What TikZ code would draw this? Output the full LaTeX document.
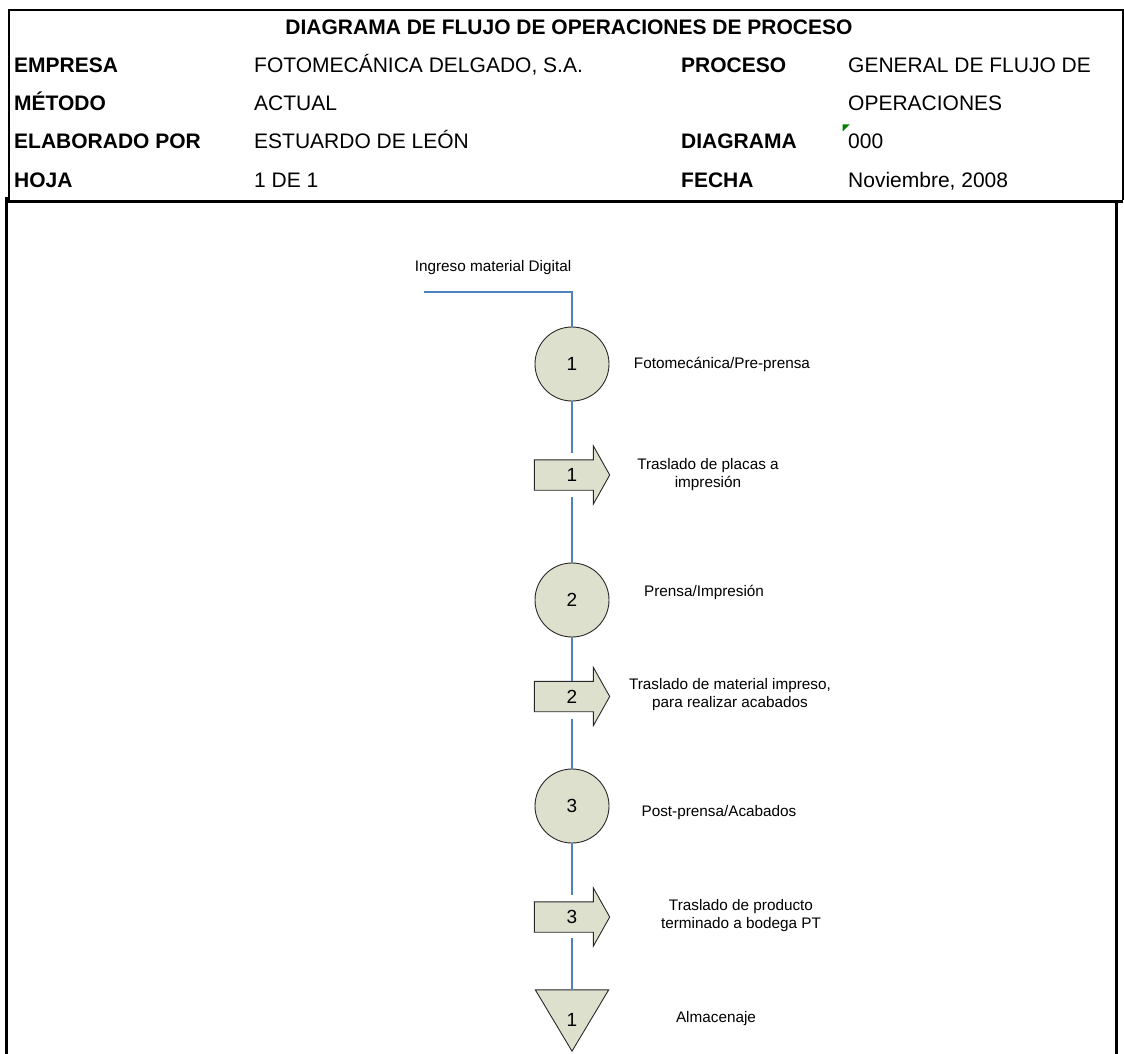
\documentclass[tikz,border=0pt]{standalone}
\usepackage{fontspec}
\setmainfont{Liberation Sans}
\begin{document}
\begin{tikzpicture}[x=1pt,y=-1pt,
  hdrbold/.style={font=\fontsize{21}{25}\selectfont\bfseries, inner sep=0pt, anchor=base west},
  hdrtext/.style={font=\fontsize{21}{25}\selectfont, inner sep=0pt, anchor=base west},
  caption/.style={font=\fontsize{15.3}{18}\selectfont, align=center, inner sep=0pt},
  numfont/.style={font=\fontsize{19}{22}\selectfont},
  flow/.style={draw={rgb,255:red,79;green,129;blue,189}, line width=1.5pt},
  symb/.style={draw={rgb,255:red,40;green,40;blue,40}, line width=0.9pt, fill={rgb,255:red,221;green,224;blue,204}},
  opcircle/.style={symb, circle, minimum size=74pt, inner sep=0pt, numfont},
  movebox/.style={minimum width=75pt, minimum height=30pt, inner sep=0pt},
  storebox/.style={minimum width=73pt, minimum height=61pt, inner sep=0pt},
  frame/.style={line width=2pt, black}]

\useasboundingbox (0,0) rectangle (1124,1054);

% header frame
\draw[frame] (9,200) -- (9,10) -- (1123,10) -- (1123,200);
\draw[line width=3pt] (5,201.5) -- (1123,201.5);
\draw[line width=3pt] (6,197) -- (6,1054);
\draw[line width=3pt] (1116.5,201) -- (1116.5,1054);

% header texts
\node[hdrbold, anchor=base] (title) at (569,35) {DIAGRAMA DE FLUJO DE OPERACIONES DE PROCESO};
\node[hdrbold] (lemp) at (14,73) {EMPRESA};
\node[hdrtext] (vemp) at (254,73) {FOTOMECÁNICA DELGADO, S.A.};
\node[hdrbold] (lproc) at (681,73) {PROCESO};
\node[hdrtext] (vproc) at (848,73) {GENERAL DE FLUJO DE};
\node[hdrbold] (lmet) at (14,111) {MÉTODO};
\node[hdrtext] (vmet) at (254,111) {ACTUAL};
\node[hdrtext] (vproc2) at (848,111) {OPERACIONES};
\node[hdrbold] (lelab) at (14,149) {ELABORADO POR};
\node[hdrtext] (velab) at (254,149) {ESTUARDO DE LEÓN};
\node[hdrbold] (ldiag) at (681,149) {DIAGRAMA};
\node[hdrtext] (vdiag) at (848,149) {000};
\fill[green!50!black] (842.5,124.5) -- (849.5,124.5) -- (842.5,131.5) -- cycle;
\node[hdrbold] (lhoja) at (14,187) {HOJA};
\node[hdrtext] (vhoja) at (254,187) {1 DE 1};
\node[hdrbold] (lfecha) at (681,187) {FECHA};
\node[hdrtext] (vfecha) at (848,187) {Noviembre, 2008};

% process symbols
\node[opcircle] (op1) at (572,364) {1};
\node[movebox] (tr1) at (572,475) {};
\node[opcircle] (op2) at (572,600) {2};
\node[movebox] (tr2) at (572,696.5) {};
\node[opcircle] (op3) at (572,806) {3};
\node[movebox] (tr3) at (572,917) {};
\node[storebox] (st1) at (572,1020.5) {};

% transport arrows drawn on their boxes
\foreach \t/\n in {tr1/1,tr2/2,tr3/3}{
  \draw[symb] (\t.north west) -- ++(59pt,0pt) -- ++(0pt,14pt) -- (\t.east)
    -- ([xshift=59pt,yshift=-14pt]\t.south west) -- ++(0pt,14pt) -- (\t.south west) -- cycle;
  \node[numfont] at (\t.center) {\n};
}
% storage triangle
\draw[symb] (st1.north west) -- (st1.north east) -- (st1.south) -- cycle;
\node[numfont] at ([yshift=1pt]st1.center) {1};

% flow line
\coordinate (start) at (424,292);
\draw[flow] (start) -| (op1.north);
\draw[flow] (op1.south) -- ([yshift=7pt]tr1.north);
\draw[flow] ([yshift=-7pt]tr1.south) -- (op2.north);
\draw[flow] (op2.south) -- (tr2.north);
\draw[flow] ([yshift=-7pt]tr2.south) -- (op3.north);
\draw[flow] (op3.south) -- ([yshift=7pt]tr3.north);
\draw[flow] ([yshift=-6pt]tr3.south) -- (st1.north);

% captions
\node[caption] (cin) at (493,268) {Ingreso material Digital};
\node[caption] (c1) at (722,364) {Fotomecánica/Pre-prensa};
\node[caption] (c2) at (708,475) {Traslado de placas a\\impresión};
\node[caption] (c3) at (704,592) {Prensa/Impresión};
\node[caption] (c4) at (730,695) {Traslado de material impreso,\\para realizar acabados};
\node[caption] (c5) at (719,813) {Post-prensa/Acabados};
\node[caption] (c6) at (741,916) {Traslado de producto\\terminado a bodega PT};
\node[caption] (c7) at (716,1019) {Almacenaje};
\end{tikzpicture}
\end{document}
